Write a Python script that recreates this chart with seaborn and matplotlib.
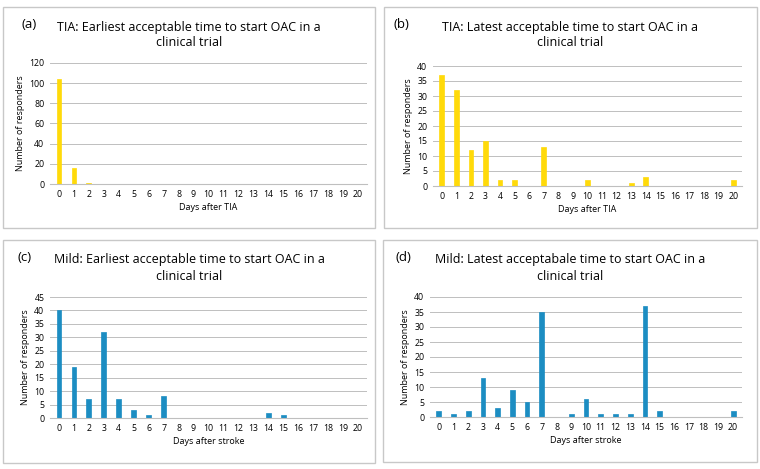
import matplotlib
matplotlib.use("Agg")
import matplotlib.pyplot as plt
import matplotlib.patches as mpatches
import numpy as np
import pandas as pd
import seaborn as sns

days = list(range(21))

tia_earliest = [104, 16, 1, 0, 0, 0, 0, 0, 0, 0, 0, 0, 0, 0, 0, 0, 0, 0, 0, 0, 0]
tia_latest = [37, 32, 12, 15, 2, 2, 0, 13, 0, 0, 2, 0, 0, 1, 3, 0, 0, 0, 0, 0, 2]
mild_earliest = [40, 19, 7, 32, 7, 3, 1, 8, 0, 0, 0, 0, 0, 0, 2, 1, 0, 0, 0, 0, 0]
mild_latest = [2, 1, 2, 13, 3, 9, 5, 35, 0, 1, 6, 1, 1, 1, 37, 2, 0, 0, 0, 0, 2]

panels = [
    ("(a)", "TIA: Earliest acceptable time to start OAC in a\nclinical trial", tia_earliest,
     "Days after TIA", 120, 20, "#FFDA0A"),
    ("(b)", "TIA: Latest acceptable time to start OAC in a\nclinical trial", tia_latest,
     "Days after TIA", 40, 5, "#FFDA0A"),
    ("(c)", "Mild: Earliest acceptable time to start OAC in a\nclinical trial", mild_earliest,
     "Days after stroke", 45, 5, "#1C8DC2"),
    ("(d)", "Mild: Latest acceptabale time to start OAC in a\nclinical trial", mild_latest,
     "Days after stroke", 40, 5, "#1C8DC2"),
]

W, H = 760, 469
fig = plt.figure(figsize=(W / 100, H / 100), dpi=100)
plt.rcParams["font.family"] = ["Open Sans", "DejaVu Sans"]

# panel boxes (x0, y0, x1, y1) in pixels from top-left, and axes boxes
boxes = [(3, 7, 375, 228), (384, 7, 757, 228), (3, 240, 375, 463), (383, 240, 757, 462)]
axboxes = [(50, 63, 367, 184), (433, 66, 742, 186), (50, 297, 367, 418), (430, 297, 742, 417)]
label_dx = [19, 9, 15, 12]

for (lab, title, vals, xlabel, ymax, ystep, color), box, axb, ldx in zip(panels, boxes, axboxes, label_dx):
    x0, y0, x1, y1 = box
    fig.patches.append(mpatches.Rectangle((x0 / W, 1 - y1 / H), (x1 - x0) / W, (y1 - y0) / H,
                                          transform=fig.transFigure, fill=False,
                                          edgecolor="#C8C8C8", linewidth=1.0))
    fig.text((x0 + ldx) / W, 1 - (y0 + 17) / H, lab, fontsize=9.5, va="center", ha="left")
    cx = (x0 + x1) / 2 / W
    fig.text(cx, 1 - (y0 + 28) / H, title, fontsize=9, va="center", ha="center",
             linespacing=1.3)

    ax = fig.add_axes([axb[0] / W, 1 - axb[3] / H, (axb[2] - axb[0]) / W, (axb[3] - axb[1]) / H])
    df = pd.DataFrame({"day": days, "n": vals})
    sns.barplot(data=df, x="day", y="n", color=color, width=0.32, ax=ax,
                edgecolor=color, linewidth=0.5, saturation=1)
    ax.set_ylim(0, ymax)
    ax.set_yticks(np.arange(0, ymax + 1, ystep))
    ax.set_xlim(-0.6, 20.6)
    ax.grid(axis="y", color="#BFBFBF", linewidth=0.7)
    ax.set_axisbelow(True)
    for s in ["top", "right", "left"]:
        ax.spines[s].set_visible(False)
    ax.spines["bottom"].set_color("#BFBFBF")
    ax.tick_params(axis="both", length=0, labelsize=6.3, pad=4)
    ax.set_xlabel(xlabel, fontsize=6.5, labelpad=3)
    ax.set_ylabel("Number of responders", fontsize=6.5, labelpad=3)

fig.savefig("out.png", dpi=100)
